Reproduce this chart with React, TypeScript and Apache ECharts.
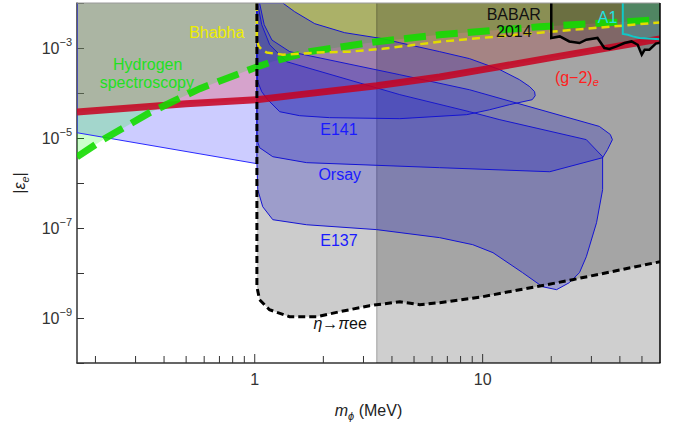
import React, { useEffect, useRef } from 'react';
import * as echarts from 'echarts';

const FONT = '"Liberation Sans", Arial, Helvetica, sans-serif';

const X_MIN = 0.166;
const X_MAX = 60;
const Y_MIN = 1e-10;
const Y_MAX = 1e-2;

type P = [number, number];

// lower edge of the lavender band (left of 2 m_e)
const LAVENDER_LOWER: P[] = [[0.166, 1.31e-5], [1.022, 2.69e-6]];

// (g-2)_e line
const G2_LINE: P[] = [
  [0.166, 3.78e-5], [0.5, 5.78e-5], [1.02, 7.1e-5], [1.575, 9.2e-5], [3.43, 1.45e-4],
  [6.48, 2.27e-4], [10, 3.3e-4], [20, 6.1e-4], [60, 1.58e-3],
];

// Hydrogen spectroscopy
const HYDROGEN_LINE: P[] = [
  [0.166, 3.8e-6], [0.216, 9.2e-6], [0.346, 3.65e-5], [0.574, 1.25e-4], [1.0, 3.65e-4],
  [1.2, 5e-4], [1.74, 8.3e-4], [2.43, 1.07e-3], [3.43, 1.38e-3], [6.48, 1.97e-3],
  [17.8, 2.97e-3], [60, 4.25e-3],
];

// Bhabha
const BHABHA_LINE: P[] = [
  [1.022, 1e-2], [1.022, 1.53e-3], [1.04, 1.1e-3], [1.073, 9.2e-4], [1.13, 7.9e-4],
  [1.33, 7.1e-4], [1.87, 7.9e-4], [2.61, 8.3e-4], [3.64, 9.6e-4], [6.48, 1.38e-3],
  [17.8, 2.19e-3], [60, 3.7e-3],
];

// eta -> pi e e
const ETA_LINE: P[] = [
  [1.022, 1e-2], [1.022, 4.96e-9], [1.05, 2.55e-9], [1.16, 1.53e-9], [1.42, 1.07e-9],
  [1.87, 1.07e-9], [2.36, 1.38e-9], [3.19, 1.88e-9], [4.33, 2.3e-9], [5.29, 1.98e-9],
  [6.48, 2.19e-9], [10, 2.97e-9], [19.1, 5.5e-9], [24.8, 7.1e-9], [60, 1.78e-8],
];

// darker band, from this mass to the right edge
const BAND_START = 3.43;

// BABAR 2014
const BABAR_LINE: P[] = [
  [20, 1e-2], [20, 1.67e-3], [21.8, 1.81e-3], [24.0, 1.4e-3], [26.6, 1.29e-3],
  [28.5, 1.53e-3], [31.9, 1.67e-3], [34.2, 1.0e-3], [36.0, 9.5e-4], [38.7, 1.09e-3],
  [41.9, 1.29e-3], [45.0, 1.4e-3], [47.9, 1.18e-3], [49.9, 7.1e-4], [51.4, 9.2e-4],
  [53.9, 9.2e-4], [57.5, 1.25e-3], [60, 1.31e-3],
];

// A1
const A1_LINE: P[] = [
  [41.2, 1e-2], [41.2, 2.05e-3], [43.3, 1.97e-3], [45.5, 1.81e-3], [48.8, 1.67e-3],
  [57.6, 1.58e-3], [60, 1.56e-3],
];

// beam-dump contours
const E141: P[] = [
  [1.022, 1e-2], [1.327, 1e-2], [1.497, 6.4e-3], [1.833, 3.47e-3], [2.48, 2.19e-3],
  [3.64, 1.61e-3], [4.33, 1.31e-3], [6.48, 8.3e-4], [8.76, 5.8e-4], [11.9, 3.3e-4],
  [14.5, 1.98e-4], [16.1, 1.38e-4], [16.9, 1.07e-4], [17.0, 8.7e-5], [16.5, 7.1e-5],
  [13.1, 5.5e-5], [10.7, 4.23e-5], [8.51, 3.3e-5], [4.33, 2.69e-5], [2.13, 2.83e-5],
  [1.575, 3.13e-5], [1.287, 3.84e-5], [1.14, 7.1e-5], [1.073, 1.07e-4], [1.031, 1.78e-4],
  [1.022, 3.3e-4],
];

const ORSAY: P[] = [
  [1.022, 1e-2], [1.05, 1e-2], [1.1, 3.3e-3], [1.19, 1.5e-3], [1.424, 8.3e-4],
  [4.33, 2.55e-4], [8.76, 1.18e-4], [32.5, 1.81e-5], [36.3, 1.2e-5], [37.1, 9.2e-6],
  [35.3, 5.5e-6], [33.6, 3.65e-6], [19.7, 1.78e-6], [6.48, 2.19e-6], [1.69, 2.83e-6],
  [1.2, 3.84e-6], [1.05, 6.1e-6], [1.022, 9.2e-6],
];

const E137: P[] = [
  [1.022, 1e-2], [1.03, 1e-2], [1.073, 3.3e-3], [1.163, 1.18e-3], [1.38, 4.96e-4],
  [4.33, 9.2e-5], [8.76, 3.84e-5], [11.9, 2.55e-5], [28.5, 9.2e-6], [33.6, 3.84e-6],
  [33.6, 7.1e-7], [31.6, 1.31e-7], [28.5, 2.3e-8], [26.6, 1.02e-8], [24.0, 6.1e-9],
  [21.1, 4.26e-9], [18.3, 4.96e-9], [14.96, 1.02e-8], [11.1, 2.83e-8], [9.05, 4.26e-8],
  [6.48, 6.1e-8], [3.43, 9.2e-8], [1.69, 1.18e-7], [1.2, 1.53e-7], [1.084, 2.97e-7],
  [1.031, 7.1e-7], [1.022, 3e-6],
];

const X_TICKS = [0.2, 0.3, 0.4, 0.5, 0.6, 0.7, 0.8, 0.9, 1, 2, 3, 4, 5, 6, 7, 8, 9, 10, 20, 30, 40, 50];
const X_TICK_LABELS = [1, 10];
const Y_LABEL_EXPONENTS = [-3, -5, -7, -9];

const LABELS = [
  { text: 'Bhabha', x: 0.681, y: 2.19e-3, color: '#eeee00' },
  { text: 'Hydrogen', x: 0.339, y: 4.26e-4, color: '#22e022' },
  { text: 'spectroscopy', x: 0.336, y: 1.69e-4, color: '#22e022' },
  { text: '(g−2){s|e}', x: 25.9, y: 2.19e-4, color: '#ff2020' },
  { text: 'E141', x: 2.34, y: 1.53e-5, color: '#1a1aff' },
  { text: 'Orsay', x: 2.36, y: 1.53e-6, color: '#1a1aff' },
  { text: 'E137', x: 2.34, y: 5.2e-8, color: '#1a1aff' },
  { text: '{i|η}→{i|π}ee', x: 2.37, y: 7.5e-10, color: '#111111' },
  { text: 'BABAR', x: 13.7, y: 5.5e-3, color: '#111111' },
  { text: '2014', x: 13.7, y: 2.3e-3, color: '#111111' },
  { text: 'A1', x: 35.3, y: 4.7e-3, color: '#22e0e0' },
];

const above = (line: P[]): P[] => [
  ...line,
  [line[line.length - 1][0], Y_MAX],
  [line[0][0], Y_MAX],
];

function polySeries(points: P[], style: any, clip = true) {
  return {
    type: 'custom',
    coordinateSystem: 'cartesian2d',
    clip,
    silent: true,
    data: points,
    renderItem: (params: any, api: any) => {
      if (params.dataIndex !== 0) return null;
      return {
        type: 'polygon',
        shape: { points: points.map((p) => api.coord(p)) },
        style,
      };
    },
  };
}

function lineSeries(points: P[], style: any, clip = true) {
  return {
    type: 'custom',
    coordinateSystem: 'cartesian2d',
    clip,
    silent: true,
    data: points,
    renderItem: (params: any, api: any) => {
      if (params.dataIndex !== 0) return null;
      return {
        type: 'polyline',
        shape: { points: points.map((p) => api.coord(p)) },
        style: { fill: null, ...style },
      };
    },
  };
}

const BLUE_FILL = 'rgba(30,30,200,0.27)';
const BLUE_EDGE = '#1414d2';

export default function App() {
  const ref = useRef<HTMLDivElement>(null);

  useEffect(() => {
    if (!ref.current) return;
    const chart = echarts.init(ref.current, undefined, { renderer: 'svg' });

    const bandPoly: P[] = [[BAND_START, Y_MIN], [X_MAX, Y_MIN], [X_MAX, Y_MAX], [BAND_START, Y_MAX]];

    const series: any[] = [
      // lavender band
      polySeries(above(LAVENDER_LOWER), { fill: 'rgba(100,100,255,0.33)', stroke: 'none' }),
      // (g-2)e region
      polySeries(above(G2_LINE), { fill: 'rgba(255,0,0,0.2)', stroke: 'none' }),
      // hydrogen spectroscopy region
      polySeries(above(HYDROGEN_LINE), { fill: 'rgba(0,255,0,0.2)', stroke: 'none' }),
      // Bhabha
      polySeries(above(BHABHA_LINE), { fill: 'rgba(255,255,0,0.2)', stroke: 'none' }),
      // eta -> pi e e
      polySeries([...ETA_LINE, [X_MAX, Y_MAX]], { fill: 'rgba(0,0,0,0.2)', stroke: 'none' }),
      // darker band
      polySeries(bandPoly, { fill: 'rgba(0,0,0,0.19)', stroke: 'none' }),
      lineSeries([[BAND_START, Y_MIN], [BAND_START, Y_MAX]], { stroke: 'rgba(0,0,0,0.3)', lineWidth: 1 }),
      // BABAR
      polySeries([...BABAR_LINE, [X_MAX, Y_MAX]], { fill: 'rgba(0,0,0,0.22)', stroke: 'none' }),
      // A1
      polySeries([...A1_LINE, [X_MAX, Y_MAX]], { fill: 'rgba(0,200,200,0.25)', stroke: 'none' }),
      // beam dumps
      polySeries(E137, { fill: BLUE_FILL, stroke: BLUE_EDGE, lineWidth: 1 }),
      polySeries(ORSAY, { fill: BLUE_FILL, stroke: BLUE_EDGE, lineWidth: 1 }),
      polySeries(E141, { fill: BLUE_FILL, stroke: BLUE_EDGE, lineWidth: 1 }),
      // lavender border
      lineSeries([[X_MIN, Y_MAX], ...LAVENDER_LOWER], { stroke: '#2a2aff', lineWidth: 1 }),
      // lines
      lineSeries(G2_LINE, { stroke: 'rgba(200,0,30,0.85)', lineWidth: 7 }),
      lineSeries(HYDROGEN_LINE, { stroke: 'rgba(20,220,0,0.9)', lineWidth: 7, lineDash: [22, 10] }),
      lineSeries(BHABHA_LINE, { stroke: '#e2dc00', lineWidth: 2.5, lineDash: [8, 5] }),
      lineSeries(ETA_LINE, { stroke: '#000000', lineWidth: 3, lineDash: [7, 4] }),
      lineSeries(BABAR_LINE, { stroke: '#000000', lineWidth: 2.5 }),
      lineSeries(A1_LINE, { stroke: '#10c8c8', lineWidth: 2 }),
      // frame: top and right
      lineSeries([[X_MIN, Y_MAX], [X_MAX, Y_MAX]], { stroke: '#9a9a9a', lineWidth: 1 }, false),
      lineSeries([[X_MAX, Y_MIN], [X_MAX, Y_MAX]], { stroke: '#000000', lineWidth: 1.5 }, false),
      // x ticks and labels
      {
        type: 'custom',
        coordinateSystem: 'cartesian2d',
        clip: false,
        silent: true,
        data: X_TICKS.map((v) => [v, Y_MIN]),
        renderItem: (params: any, api: any) => {
          const v = X_TICKS[params.dataIndex];
          const pt = api.coord([v, Y_MIN]);
          const major = X_TICK_LABELS.indexOf(v) >= 0;
          const children: any[] = [
            {
              type: 'line',
              shape: { x1: pt[0], y1: pt[1], x2: pt[0], y2: pt[1] - (major ? 9 : 7) },
              style: { stroke: '#333333', lineWidth: 1 },
            },
          ];
          if (major) {
            children.push({
              type: 'text',
              x: pt[0],
              y: pt[1] + 8,
              style: {
                text: String(v),
                fill: '#333333',
                fontSize: 16,
                fontFamily: FONT,
                align: 'center',
                verticalAlign: 'top',
              },
            });
          }
          return { type: 'group', children };
        },
      },
      // text labels
      {
        type: 'custom',
        coordinateSystem: 'cartesian2d',
        clip: false,
        silent: true,
        data: LABELS.map((l) => [l.x, l.y]),
        renderItem: (params: any, api: any) => {
          const l = LABELS[params.dataIndex];
          const pt = api.coord([l.x, l.y]);
          return {
            type: 'text',
            x: pt[0],
            y: pt[1],
            style: {
              text: l.text,
              fill: l.color,
              fontSize: 16,
              fontFamily: FONT,
              lineHeight: 20,
              align: 'center',
              verticalAlign: 'middle',
              rich: {
                s: { fontSize: 11, fontStyle: 'italic', fontFamily: FONT, fill: l.color, lineHeight: 11, verticalAlign: 'bottom' },
                i: { fontSize: 16, fontStyle: 'italic', fontFamily: FONT, fill: l.color, lineHeight: 20 },
              },
            },
          };
        },
      },
    ];

    chart.setOption({
      animation: false,
      backgroundColor: '#ffffff',
      grid: { left: 77, right: 30, top: 3, bottom: 67, containLabel: false },
      xAxis: {
        type: 'log',
        logBase: 10,
        min: X_MIN,
        max: X_MAX,
        axisLine: { show: true, lineStyle: { color: '#333333', width: 1.5 } },
        axisTick: { show: false },
        axisLabel: { show: false },
        splitLine: { show: false },
        minorTick: { show: false },
        name: '{i|m}{s|ϕ} (MeV)',
        nameLocation: 'middle',
        nameGap: 36,
        nameTextStyle: {
          color: '#222222',
          fontSize: 16,
          fontFamily: FONT,
          lineHeight: 22,
          rich: {
            i: { fontStyle: 'italic', fontSize: 16, fontFamily: FONT, color: '#222222', lineHeight: 22 },
            s: { fontStyle: 'italic', fontSize: 11, fontFamily: FONT, color: '#222222', lineHeight: 11, verticalAlign: 'bottom' },
          },
        },
      },
      yAxis: {
        type: 'log',
        logBase: 10,
        min: Y_MIN,
        max: Y_MAX,
        interval: 1,
        axisLine: { show: true, lineStyle: { color: '#333333', width: 1.5 } },
        axisTick: { show: true, inside: true, length: 7, lineStyle: { color: '#333333', width: 1 } },
        splitLine: { show: false },
        minorTick: { show: false },
        axisLabel: {
          margin: 5,
          formatter: (v: number) => {
            const e = Math.round(Math.log10(v));
            if (Y_LABEL_EXPONENTS.indexOf(e) < 0) return '';
            return `{b|10}{s|−${-e}}`;
          },
          rich: {
            b: { fontSize: 16, fontFamily: FONT, color: '#333333', lineHeight: 24, verticalAlign: 'middle' },
            s: { fontSize: 11, fontFamily: FONT, color: '#333333', lineHeight: 11, verticalAlign: 'top' },
          },
        },
        name: '|{e|ε}{s|e}|',
        nameLocation: 'middle',
        nameGap: 47,
        nameRotate: 90,
        nameTextStyle: {
          color: '#222222',
          fontSize: 16,
          fontFamily: FONT,
          lineHeight: 22,
          rich: {
            e: { fontStyle: 'italic', fontSize: 16, fontFamily: FONT, color: '#222222', lineHeight: 22 },
            s: { fontStyle: 'italic', fontSize: 11, fontFamily: FONT, color: '#222222', lineHeight: 11, verticalAlign: 'bottom' },
          },
        },
      },
      series,
    });

    return () => chart.dispose();
  }, []);

  return (
    <div
      ref={ref}
      style={{ position: 'fixed', left: 0, top: 0, width: 690, height: 430, background: '#fff' }}
    />
  );
}
